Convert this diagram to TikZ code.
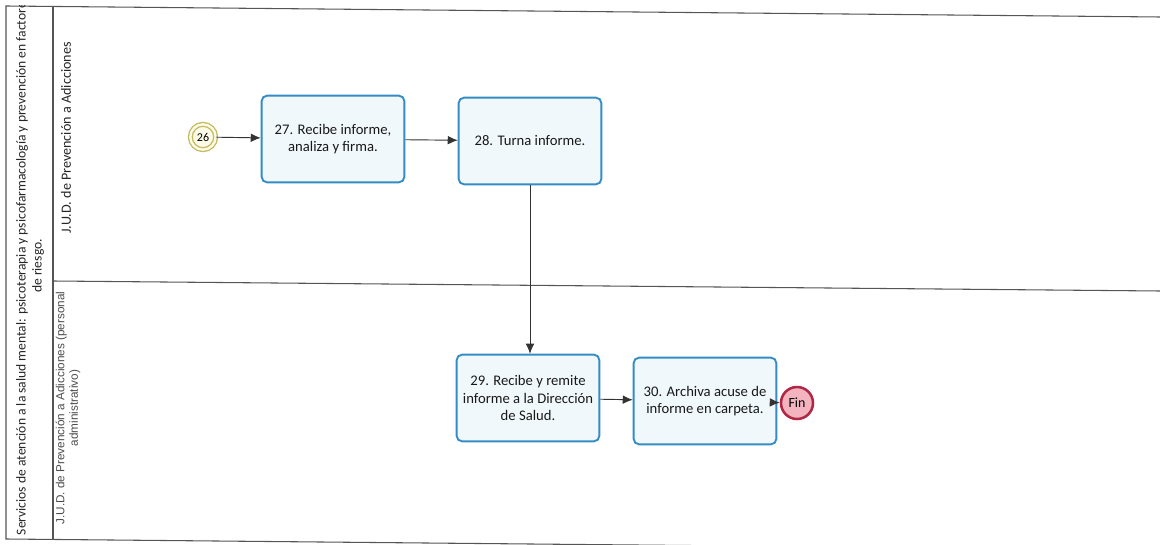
\documentclass[tikz,border=0pt]{standalone}
\usepackage{fontspec}
\setmainfont{Carlito}
\newfontfamily\lanefont{Liberation Sans}
\usetikzlibrary{arrows.meta}

\definecolor{taskblue}{RGB}{52,140,196}
\definecolor{taskfill}{RGB}{241,248,252}
\definecolor{startring}{RGB}{196,186,96}
\definecolor{startfill}{RGB}{252,251,232}
\definecolor{endred}{RGB}{176,40,68}
\definecolor{endfill}{RGB}{243,180,192}
\definecolor{poolline}{RGB}{85,85,85}

\tikzset{
    task/.style={draw=taskblue, line width=1.4pt, fill=taskfill, rounded corners=4pt,
        minimum width=107pt, minimum height=65pt, align=center, text=black!90,
        font=\fontsize{11}{13}\selectfont},
    flow/.style={-{Latex[length=7.5pt,width=6.5pt]}, line width=0.7pt, draw=black!80},
    lanelabel/.style={rotate=90, align=center, text=black!85},
}

\begin{document}
\begin{tikzpicture}[x=0.75pt, y=-0.75pt]
        \useasboundingbox (0,0) rectangle (1160,545);

        % Pool and lane borders
        \coordinate (PTL) at (6,6);
        \coordinate (PTR) at (1160,17);
        \coordinate (PBL) at (6,539);
        \coordinate (PBR) at (1160,550);
        \coordinate (HT) at (53,6);
        \coordinate (HB) at (53,539);
        \coordinate (LL) at (53,281);
        \coordinate (LR) at (1160,291);

        \draw[poolline, line width=0.8pt] (PTR) -- (PTL) -- (PBL) -- (PBR);
        \draw[poolline, line width=0.8pt] (HT) -- (HB);
        \draw[poolline, line width=0.8pt] (LL) -- (LR);

        % Pool title
        \begin{scope}
            \clip (PTL) rectangle (HB);
            \node[lanelabel, font=\fontsize{10.2}{12}\selectfont] (pool) at (30,266)
                {Servicios de atención a la salud mental: psicoterapia y psicofarmacología y prevención en factores\\de riesgo.};
        \end{scope}

        % Lane titles
        \node[lanelabel, font=\fontsize{10.6}{12}\selectfont] (lane1) at (66,138)
            {J.U.D. de Prevención a Adicciones};
        \begin{scope}
            \clip (LL) rectangle (110,539);
            \node[lanelabel, font=\lanefont\fontsize{8.8}{10}\selectfont, text=black!70] (lane2) at (68,408)
                {J.U.D. de Prevención a Adicciones (personal\\administrativo)};
        \end{scope}

        % Events
        \node[circle, draw=startring, line width=1pt, fill=startfill, double=startfill,
              double distance=1.8pt, minimum size=19pt, inner sep=0pt,
              font=\fontsize{9}{10}\selectfont] (ev26) at (203,137) {26};
        \node[circle, draw=endred, line width=1.9pt, fill=endfill, minimum size=24pt,
              inner sep=0pt, font=\fontsize{10.5}{12}\selectfont] (fin) at (797,403) {Fin};

        % Tasks
        \node[task] (t27) at (333,139) {27. Recibe informe,\\analiza y firma.};
        \node[task] (t28) at (530,141) {28. Turna informe.};
        \node[task] (t29) at (528,398) {29. Recibe y remite\\informe a la Dirección\\de Salud.};
        \node[task] (t30) at (705,401) {30. Archiva acuse de\\informe en carpeta.};

        % Sequence flows
        \draw[flow] (ev26) -- (t27);
        \draw[flow] (t27) -- (t28);
        \draw[flow] (t28) -- (t28 |- t29.north);
        \draw[flow] (t29) -- (t30);
        \draw[flow] (t30) -- (fin);

    \end{tikzpicture}
\end{document}
